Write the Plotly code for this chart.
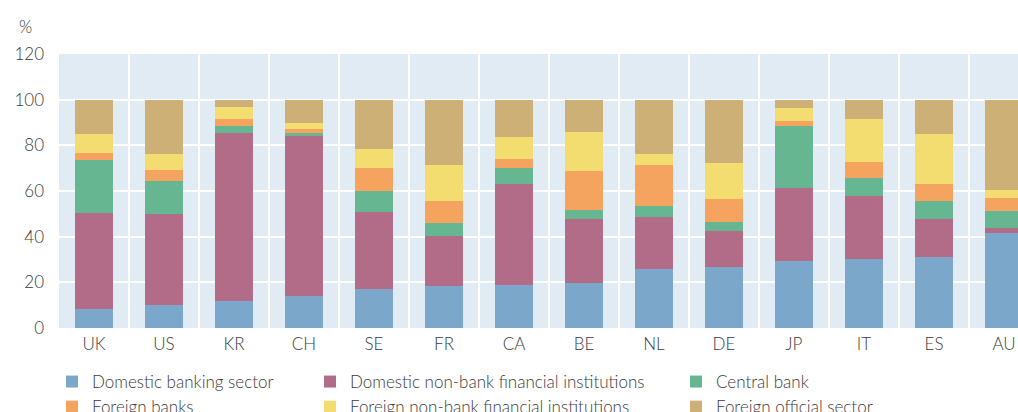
import plotly.graph_objects as go

countries = ["UK", "US", "KR", "CH", "SE", "FR", "CA", "BE", "NL", "DE", "JP", "IT", "ES", "AU"]

domestic_banking = [8.4, 9.9, 11.7, 13.9, 17.0, 18.5, 18.9, 19.8, 26.0, 26.9, 29.5, 30.4, 31.3, 41.4]
domestic_nbfi = [42.0, 40.1, 73.5, 70.5, 34.0, 21.6, 44.1, 27.8, 22.5, 15.8, 31.7, 27.3, 16.3, 2.4]
central_bank = [23.2, 14.5, 3.1, 0.8, 9.0, 5.7, 7.0, 4.2, 4.8, 3.6, 27.3, 7.9, 7.9, 7.5]
foreign_banks = [3.1, 4.9, 3.1, 1.8, 10.0, 9.7, 4.0, 16.9, 18.1, 10.1, 2.2, 7.1, 7.5, 5.7]
foreign_nbfi = [8.3, 7.0, 5.3, 2.6, 8.4, 15.9, 9.7, 17.2, 4.8, 15.8, 5.8, 18.9, 21.8, 3.6]
foreign_official = [15.0, 23.6, 3.3, 10.4, 21.6, 28.6, 16.3, 14.1, 23.8, 27.8, 3.5, 8.4, 15.2, 39.4]

series_names = [
    "Domestic banking sector",
    "Domestic non-bank financial institutions",
    "Central bank",
    "Foreign banks",
    "Foreign non-bank financial institutions",
    "Foreign official sector",
]
series_values = [domestic_banking, domestic_nbfi, central_bank, foreign_banks, foreign_nbfi, foreign_official]
series_colors = ["#7BA7CA", "#B36C88", "#67B692", "#F4A45E", "#F3DD70", "#CDB076"]
series_legend = ["legend", "legend2", "legend3", "legend", "legend2", "legend3"]

y_ticks = [0, 20, 40, 60, 80, 100, 120]

W, H = 1018, 412
ML, MR, MT, MB = 59, 0, 54, 84
text_color = "#3a3a3a"
font_family = "Lato, 'Open Sans', sans-serif"
FW = 300

fig = go.Figure()
for name, vals, col, lg in zip(series_names, series_values, series_colors, series_legend):
    fig.add_trace(go.Bar(
        x=countries, y=vals, name=name, marker=dict(color=col, line=dict(width=0)),
        width=0.54, legend=lg,
    ))

pw = W - ML - MR
def px_to_paper_x(px):
    return (px - ML) / pw
ph = H - MT - MB
def px_to_paper_y(py):
    return (H - MB - py) / ph

legend_common = dict(
    orientation="v", traceorder="normal", bgcolor="rgba(0,0,0,0)",
    font=dict(family=font_family, size=17, color=text_color, weight=FW),
    xanchor="left", yanchor="top", itemwidth=30, tracegroupgap=0,
    itemclick=False, itemdoubleclick=False,
)

fig.update_layout(
    width=W, height=H,
    margin=dict(l=ML, r=MR, t=MT, b=MB, pad=0, autoexpand=False),
    paper_bgcolor="white", plot_bgcolor="#E1EBF4",
    barmode="stack", bargap=0,
    font=dict(family=font_family, size=16, color=text_color, weight=FW),
    xaxis=dict(
        type="category", categoryorder="array", categoryarray=countries,
        range=[-0.5, 13.2], tickson="boundaries", showgrid=True, automargin=False,
        gridcolor="white", gridwidth=2, ticks="", showline=False, zeroline=False,
        tickfont=dict(size=17, color=text_color, weight=FW), ticklabelstandoff=4,
    ),
    yaxis=dict(
        range=[0, 120], tickvals=y_ticks, showgrid=True, gridcolor="white", automargin=False,
        gridwidth=2, zeroline=False, showline=False, ticks="",
        tickfont=dict(size=17, color=text_color, weight=FW), ticklabelstandoff=14,
    ),
    legend=dict(x=px_to_paper_x(52), y=px_to_paper_y(364), **legend_common),
    legend2=dict(x=px_to_paper_x(310), y=px_to_paper_y(364), **legend_common),
    legend3=dict(x=px_to_paper_x(676), y=px_to_paper_y(364), **legend_common),
    showlegend=True,
    annotations=[dict(
        text="%", xref="paper", yref="paper", x=px_to_paper_x(17), y=px_to_paper_y(14),
        xanchor="left", yanchor="top", showarrow=False,
        font=dict(family=font_family, size=17, color=text_color, weight=FW),
    )],
)

fig.write_html(
    "out.html",
    config={"displayModeBar": False},
    post_script="document.body.style.margin='0';document.body.style.overflow='hidden';",
)
